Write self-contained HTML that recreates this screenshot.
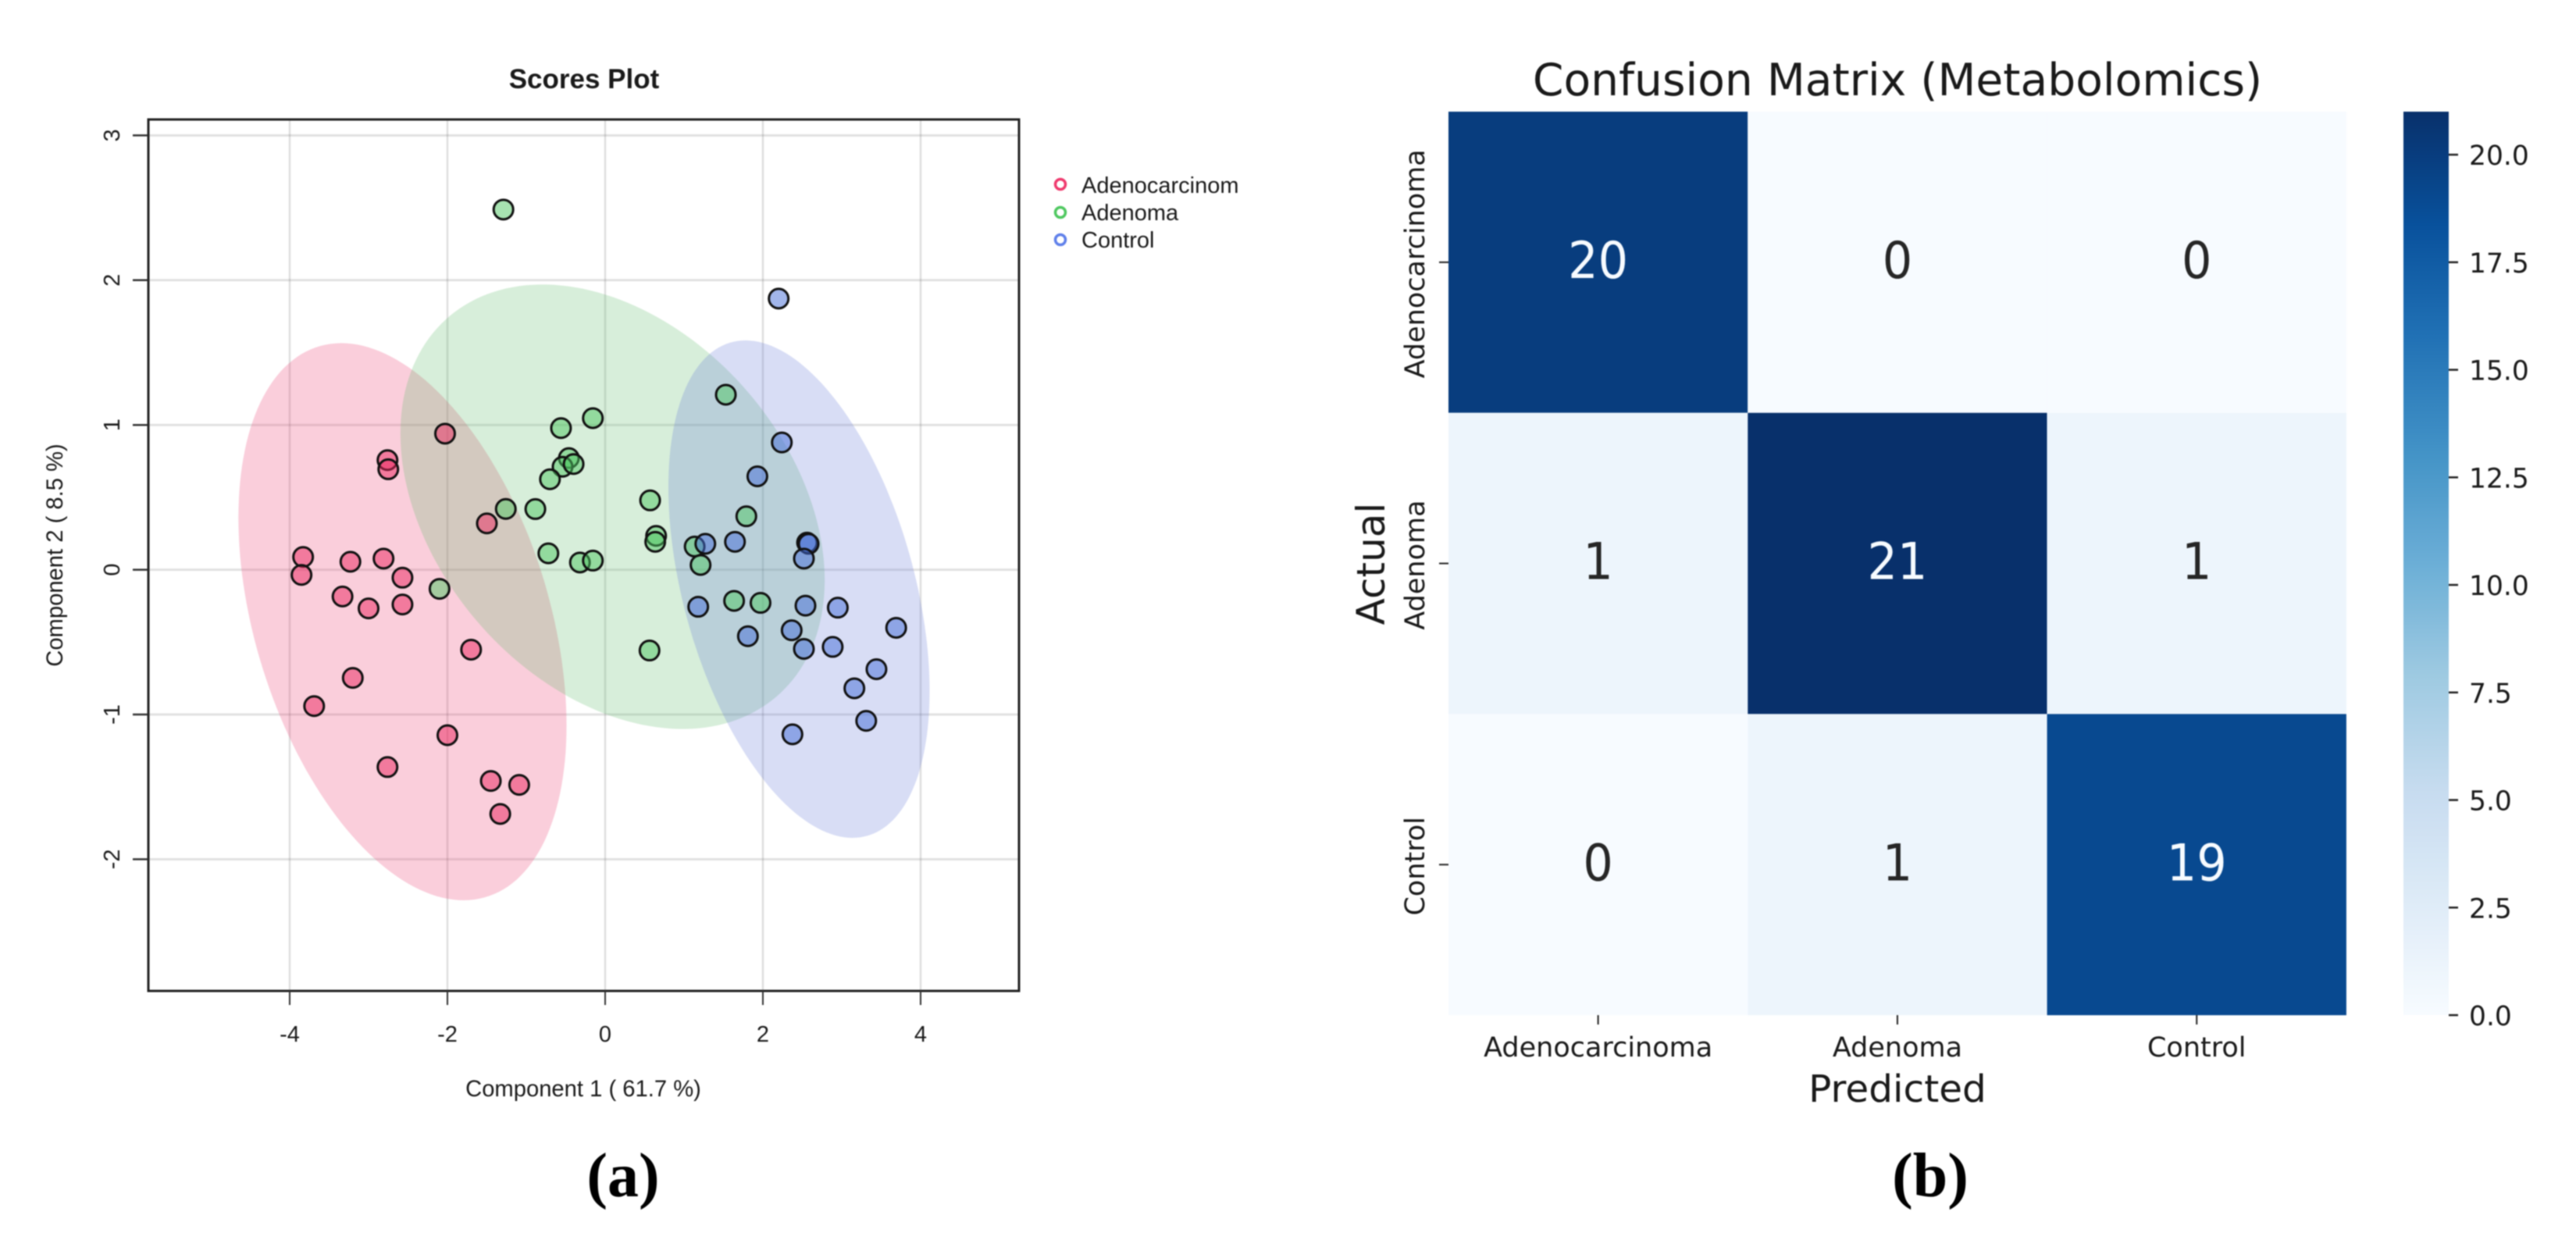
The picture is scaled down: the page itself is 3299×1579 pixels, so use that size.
<!DOCTYPE html>
<html lang="en">
<head>
<meta charset="utf-8">
<title>Scores Plot and Confusion Matrix</title>
<style>
  html, body { margin: 0; padding: 0; background: #fff; }
  body { width: 3299px; height: 1579px; overflow: hidden; }
  svg { display: block; filter: blur(0.9px); }
  .lib { font-family: "Liberation Sans", sans-serif; fill: #1a1a1a; }
  .dej { font-family: "DejaVu Sans", sans-serif; fill: #1a1a1a; }
  .cap { font-family: "Liberation Serif", serif; font-weight: bold; font-size: 80px; fill: #000; }
</style>
</head>
<body>
<svg id="figure" width="3299" height="1579" viewBox="0 0 3299 1579" xmlns="http://www.w3.org/2000/svg">
  <defs>
    <clipPath id="legend-clip"><rect x="1370" y="200" width="215" height="60"/></clipPath>
    <clipPath id="plot-clip"><rect x="189" y="152" width="1117" height="1117"/></clipPath>
    <linearGradient id="cbar-gradient" x1="0" y1="1" x2="0" y2="0"></linearGradient>
  </defs>

  <g id="scores-plot">
    <text class="lib" x="748" y="113" text-anchor="middle" font-size="35" font-weight="bold">Scores Plot</text>
    <g id="scores-grid"></g>
    <g id="scores-ellipses" clip-path="url(#plot-clip)"></g>
    <g id="scores-points"></g>
    <rect x="190" y="153" width="1115" height="1116" fill="none" stroke="#222" stroke-width="3"/>
    <g id="scores-ticks"></g>
    <text class="lib" x="747" y="1404" text-anchor="middle" font-size="29.2">Component 1 ( 61.7 %)</text>
    <text class="lib" transform="translate(80 711) rotate(-90)" text-anchor="middle" font-size="29.2">Component 2 ( 8.5 %)</text>
    <g id="scores-legend">
      <g>
        <circle cx="1358" cy="236" r="6.5" fill="none" stroke="#ef3a6e" stroke-width="3.5"/>
        <text class="lib" clip-path="url(#legend-clip)" x="1385" y="247" font-size="29">Adenocarcinoma</text>
      </g>
      <g>
        <circle cx="1358" cy="272" r="6.5" fill="none" stroke="#4fc860" stroke-width="3.5"/>
        <text class="lib" x="1385" y="282" font-size="29">Adenoma</text>
      </g>
      <g>
        <circle cx="1358" cy="307" r="6.5" fill="none" stroke="#5f80ea" stroke-width="3.5"/>
        <text class="lib" x="1385" y="317" font-size="29">Control</text>
      </g>
    </g>
  </g>

  <g id="confusion-matrix">
    <text class="dej" x="2430" y="122" text-anchor="middle" font-size="56.7">Confusion Matrix (Metabolomics)</text>
    <g id="heatmap-cells"></g>
    <g id="heatmap-ticks"></g>
    <text class="dej" x="2430" y="1411" text-anchor="middle" font-size="48.5">Predicted</text>
    <text class="dej" transform="translate(1773 722) rotate(-90)" text-anchor="middle" font-size="50">Actual</text>
    <rect id="colorbar" x="3078" y="143" width="58" height="1157" fill="url(#cbar-gradient)"/>
    <g id="colorbar-ticks"></g>
  </g>

  <text class="cap" x="798" y="1532" text-anchor="middle">(a)</text>
  <text class="cap" x="2472" y="1532" text-anchor="middle">(b)</text>
</svg>

<script>
// ---------- Scores plot data (component scores) ----------
const xTickValues = [-4, -2, 0, 2, 4];
const yTickValues = [-2, -1, 0, 1, 2, 3];

const adenocarcinomaX = [-2.03, -2.76, -2.75, -1.50, -3.83, -3.85, -3.23, -2.81, -2.57, -3.33, -3.00, -2.57, -1.70, -3.20, -3.69, -2.00, -2.76, -1.45, -1.09, -1.33];
const adenocarcinomaY = [0.94, 0.757, 0.694, 0.32, 0.088, -0.036, 0.055, 0.077, -0.055, -0.185, -0.267, -0.24, -0.552, -0.747, -0.942, -1.143, -1.363, -1.459, -1.486, -1.687];

const adenomaX = [-1.29, -0.156, -0.56, -0.46, -0.54, -0.40, -0.70, -1.26, -0.885, 0.57, 0.646, 0.635, -0.72, -0.32, -0.156, 1.135, 1.21, -2.10, 1.53, 1.79, 1.635, 1.97, 0.5625];
const adenomaY = [2.488, 1.047, 0.978, 0.771, 0.711, 0.73, 0.625, 0.42, 0.419, 0.479, 0.234, 0.193, 0.113, 0.05, 0.063, 0.16, 0.033, -0.132, 1.209, 0.369, -0.215, -0.229, -0.558];

const controlX = [2.20, 2.24, 1.93, 1.27, 1.646, 2.56, 2.58, 2.52, 1.18, 2.54, 2.95, 3.69, 1.81, 2.365, 2.52, 2.885, 3.44, 3.16, 3.31, 2.375];
const controlY = [1.873, 0.879, 0.645, 0.179, 0.193, 0.187, 0.179, 0.077, -0.256, -0.248, -0.262, -0.401, -0.459, -0.418, -0.547, -0.533, -0.687, -0.819, -1.044, -1.137];

// Confidence regions: centre, half-extents and correlation in data units
const ellipseCentreX = [-2.57, 0.094, 2.458];
const ellipseCentreY = [-0.359, 0.435, -0.134];
const ellipseRadiusX = [2.08, 2.69, 1.656];
const ellipseRadiusY = [1.924, 1.535, 1.718];
const ellipseCorrelation = [-0.373, -0.33, -0.41];
const groupNames = ['adenocarcinoma', 'adenoma', 'control'];

// ---------- Confusion matrix data ----------
const matrixCategories = ['Adenocarcinoma', 'Adenoma', 'Control'];
const matrixRowAdenocarcinoma = [20, 0, 0];
const matrixRowAdenoma = [1, 21, 1];
const matrixRowControl = [0, 1, 19];
const colorbarTickValues = [0, 2.5, 5, 7.5, 10, 12.5, 15, 17.5, 20];
const colorbarMaximum = 21;

// ---------- Axis functions ----------
const scaleX = v => 775 + v * 101;
const scaleY = v => 729.6 - v * 185.4;
const cellLeft = c => 1855 + c * 383.3;
const cellTop = r => 143 + r * 385.7;
const colorbarY = v => 1300 - v * (1157 / colorbarMaximum);

const NS = 'http://www.w3.org/2000/svg';
const bluesStops = ['#f7fbff', '#deebf7', '#c6dbef', '#9ecae1', '#6baed6', '#4292c6', '#2171b5', '#08519c', '#08306b'];
function hexToRgb(h) {
  return [parseInt(h.slice(1, 3), 16), parseInt(h.slice(3, 5), 16), parseInt(h.slice(5, 7), 16)];
}
function blues(t) {
  const p = Math.max(0, Math.min(1, t)) * (bluesStops.length - 1);
  const i = Math.min(Math.floor(p), bluesStops.length - 2);
  const a = hexToRgb(bluesStops[i]);
  const b = hexToRgb(bluesStops[i + 1]);
  const f = p - i;
  return 'rgb(' + a.map((v, k) => Math.round(v + (b[k] - v) * f)).join(',') + ')';
}
function make(tag, parentId) {
  const el = document.createElementNS(NS, tag);
  document.getElementById(parentId).appendChild(el);
  return el;
}
function set(el, key, value) {
  el.setAttribute(key, value);
}

// ---------- Scores plot grid and ticks ----------
xTickValues.forEach(v => {
  const grid = make('line', 'scores-grid');
  
  
  set(grid, 'x1', scaleX(v)); set(grid, 'x2', scaleX(v));
  set(grid, 'y1', 153); set(grid, 'y2', 1269);
  set(grid, 'stroke', 'rgba(90,90,90,0.2)'); set(grid, 'stroke-width', 2.5);

  const tick = make('line', 'scores-ticks');
  
  
  set(tick, 'x1', scaleX(v)); set(tick, 'x2', scaleX(v));
  set(tick, 'y1', 1269); set(tick, 'y2', 1287);
  set(tick, 'stroke', '#333'); set(tick, 'stroke-width', 2);

  const label = make('text', 'scores-ticks');
  
  
  set(label, 'class', 'lib');
  set(label, 'x', scaleX(v)); set(label, 'y', 1334);
  set(label, 'text-anchor', 'middle'); set(label, 'font-size', 29);
  label.textContent = String(v);
});
yTickValues.forEach(v => {
  const grid = make('line', 'scores-grid');
  
  
  set(grid, 'x1', 190); set(grid, 'x2', 1305);
  set(grid, 'y1', scaleY(v)); set(grid, 'y2', scaleY(v));
  set(grid, 'stroke', 'rgba(90,90,90,0.18)'); set(grid, 'stroke-width', 3);

  const tick = make('line', 'scores-ticks');
  
  
  set(tick, 'x1', 170); set(tick, 'x2', 189);
  set(tick, 'y1', scaleY(v)); set(tick, 'y2', scaleY(v));
  set(tick, 'stroke', '#333'); set(tick, 'stroke-width', 2.5);

  const label = make('text', 'scores-ticks');
  
  
  set(label, 'class', 'lib');
  set(label, 'transform', 'translate(153 ' + scaleY(v) + ') rotate(-90)');
  set(label, 'text-anchor', 'middle'); set(label, 'font-size', 29);
  label.textContent = String(v);
});

// ---------- Ellipses ----------
const ellipseFills = ['rgba(235,60,110,0.25)', 'rgba(95,187,107,0.25)', 'rgba(99,119,215,0.25)'];
groupNames.forEach((name, g) => {
  const phi = Math.acos(ellipseCorrelation[g]);
  let d = '';
  for (let k = 0; k < 180; k++) {
    const t = k / 180 * 2 * Math.PI;
    const px = scaleX(ellipseCentreX[g] + ellipseRadiusX[g] * Math.cos(t));
    const py = scaleY(ellipseCentreY[g] + ellipseRadiusY[g] * Math.cos(t - phi));
    d += (k ? 'L' : 'M') + px.toFixed(1) + ' ' + py.toFixed(1);
  }
  const path = make('path', 'scores-ellipses');
  
  
  set(path, 'd', d + 'Z');
  set(path, 'fill', ellipseFills[g]);
});

// ---------- Points ----------
const groupXs = [adenocarcinomaX, adenomaX, controlX];
const groupYs = [adenocarcinomaY, adenomaY, controlY];
const pointFills = ['rgba(235,40,95,0.5)', 'rgba(80,200,100,0.5)', 'rgba(70,110,215,0.5)'];
groupNames.forEach((name, g) => {
  groupXs[g].forEach((x, i) => {
    const dot = make('circle', 'scores-points');
    
    
    set(dot, 'cx', scaleX(x));
    set(dot, 'cy', scaleY(groupYs[g][i]));
    set(dot, 'r', 12.5);
    set(dot, 'fill', pointFills[g]);
    set(dot, 'stroke', '#111');
    set(dot, 'stroke-width', 3);
  });
});

// ---------- Heatmap ----------
const matrixRows = [matrixRowAdenocarcinoma, matrixRowAdenoma, matrixRowControl];
matrixRows.forEach((row, r) => {
  row.forEach((value, c) => {
    const cell = make('rect', 'heatmap-cells');
    
    
    set(cell, 'x', cellLeft(c));
    set(cell, 'y', cellTop(r));
    set(cell, 'width', cellLeft(c + 1) - cellLeft(c));
    set(cell, 'height', cellTop(r + 1) - cellTop(r));
    set(cell, 'fill', blues(value / colorbarMaximum));

    const text = make('text', 'heatmap-cells');
    
    
    set(text, 'x', (cellLeft(c) + cellLeft(c + 1)) / 2);
    set(text, 'y', (cellTop(r) + cellTop(r + 1)) / 2 + 20);
    set(text, 'text-anchor', 'middle');
    set(text, 'font-size', 65);
    set(text, 'textLength', String(value).length * 38.5);
    set(text, 'lengthAdjust', 'spacingAndGlyphs');
    set(text, 'font-family', '"DejaVu Sans", sans-serif');
    set(text, 'fill', value / colorbarMaximum > 0.5 ? '#f7fbff' : '#262626');
    text.textContent = String(value);
  });
});
matrixCategories.forEach((name, i) => {
  const cx = (cellLeft(i) + cellLeft(i + 1)) / 2;
  const cy = (cellTop(i) + cellTop(i + 1)) / 2;

  const xt = make('line', 'heatmap-ticks');
  
  
  set(xt, 'x1', cx); set(xt, 'x2', cx); set(xt, 'y1', 1300); set(xt, 'y2', 1312);
  set(xt, 'stroke', '#222'); set(xt, 'stroke-width', 2);

  const xl = make('text', 'heatmap-ticks');
  
  
  set(xl, 'class', 'dej');
  set(xl, 'x', cx); set(xl, 'y', 1353);
  set(xl, 'text-anchor', 'middle'); set(xl, 'font-size', 35);
  xl.textContent = name;

  const yt = make('line', 'heatmap-ticks');
  
  
  set(yt, 'x1', 1843); set(yt, 'x2', 1855); set(yt, 'y1', cy); set(yt, 'y2', cy);
  set(yt, 'stroke', '#222'); set(yt, 'stroke-width', 2);

  const yl = make('text', 'heatmap-ticks');
  
  
  set(yl, 'class', 'dej');
  set(yl, 'transform', 'translate(1824 ' + (cy + 2) + ') rotate(-90)');
  set(yl, 'text-anchor', 'middle'); set(yl, 'font-size', 35);
  yl.textContent = name;
});

// ---------- Colour bar ----------
for (let k = 0; k <= 40; k++) {
  const stop = make('stop', 'cbar-gradient');
  set(stop, 'offset', k / 40);
  set(stop, 'stop-color', blues(k / 40));
}
colorbarTickValues.forEach(v => {
  const tick = make('line', 'colorbar-ticks');
  
  
  set(tick, 'x1', 3136); set(tick, 'x2', 3148);
  set(tick, 'y1', colorbarY(v)); set(tick, 'y2', colorbarY(v));
  set(tick, 'stroke', '#222'); set(tick, 'stroke-width', 2.5);

  const label = make('text', 'colorbar-ticks');
  
  
  set(label, 'class', 'dej');
  set(label, 'x', 3162); set(label, 'y', colorbarY(v) + 13);
  set(label, 'font-size', 34.5);
  label.textContent = v.toFixed(1);
});
</script>
</body>
</html>
